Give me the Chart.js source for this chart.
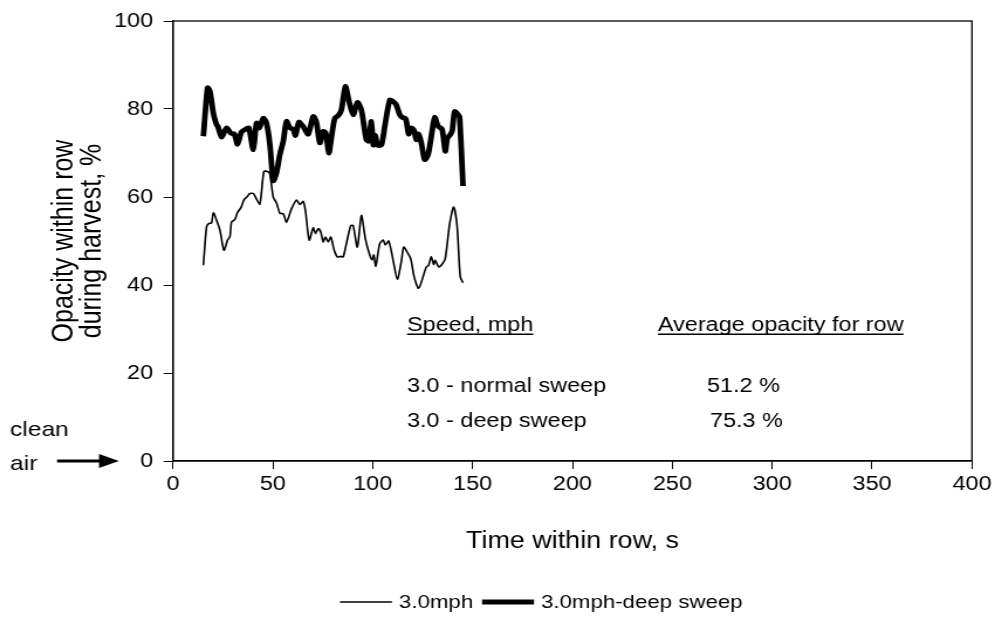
<!DOCTYPE html>
<html><head><meta charset="utf-8">
<script src="https://cdn.jsdelivr.net/npm/chart.js@4.4.1/dist/chart.umd.min.js"></script>
<style>html,body{margin:0;padding:0;background:#fff;overflow:hidden}
#c{display:block}</style>
</head><body>
<canvas id="c" width="850" height="627" style="width:995px;height:627px"></canvas>
<script>
// ---- data ----
const timeNormal = [15.2,16.8,18.0,19.3,20.2,21.8,23.5,25.5,27.3,28.5,29.3,31.0,32.3,34.0,35.7,37.0,38.5,40.2,41.8,43.5,45.5,47.3,48.5,50.2,51.8,53.5,55.2,56.8,59.3,61.8,63.5,65.2,66.3,68.2,70.2,71.3,72.7,74.0,75.2,76.3,77.7,79.0,80.7,82.3,84.0,85.2,86.8,89.0,90.2,92.3,94.3,96.3,98.5,99.7,100.5,101.5,103.5,105.2,106.3,108.0,110.2,112.3,114.3,115.5,117.2,119.0,120.7,122.7,123.5,125.2,126.8,128.0,129.3,130.5,131.3,133.0,134.7,136.3,138.5,140.5,142.2,143.8,145.2];
const opacityNormal = [44.5,53.2,54.0,54.1,56.4,54.7,52.4,47.9,50.2,51.0,54.3,54.9,56.5,57.6,59.5,60.0,60.8,60.8,59.5,58.4,65.8,65.8,65.2,59.9,58.7,56.3,56.2,54.3,57.3,59.3,58.3,59.0,56.9,50.2,53.0,51.7,52.8,52.0,49.8,50.9,49.8,50.9,47.9,46.4,46.5,46.4,49.4,53.5,53.5,48.6,55.8,50.5,46.8,45.7,46.8,44.3,49.4,50.2,49.1,50.0,45.6,41.3,45.3,48.6,47.5,46.0,41.9,39.3,39.6,41.9,44.1,44.5,46.4,44.7,45.6,44.1,44.7,46.0,53.9,57.7,53.5,41.9,40.5];
const timeDeep = [15.2,17.3,18.5,20.2,21.8,22.5,24.3,26.8,29.0,30.7,32.3,34.3,36.8,38.0,40.2,41.8,43.2,45.2,46.8,48.5,50.2,51.8,53.5,55.2,56.8,58.5,60.2,61.3,63.0,65.2,67.7,70.2,71.8,73.5,75.2,76.5,78.0,79.3,81.0,82.7,84.3,86.3,88.0,90.2,92.3,94.3,96.8,98.0,99.3,100.3,101.3,102.3,104.3,106.0,108.5,110.2,111.8,113.5,114.7,116.5,118.0,119.3,120.7,121.8,123.0,124.3,126.0,127.7,129.7,131.0,132.7,134.7,136.3,137.3,138.5,139.7,141.0,142.7,143.5,145.2];
const opacityDeep = [73.8,84.8,84.0,79.0,76.4,76.0,73.6,75.7,74.5,74.3,72.0,74.8,75.5,75.7,70.8,76.8,75.7,77.9,76.8,71.9,63.7,65.5,69.7,72.7,77.2,75.7,75.4,74.0,77.0,76.0,74.3,78.3,77.0,72.3,74.9,74.5,70.0,73.5,77.9,78.5,79.8,85.1,82.0,78.7,81.5,79.8,73.0,72.7,77.2,71.8,74.0,71.8,71.8,76.0,82.0,81.7,80.9,78.7,78.1,77.8,74.3,75.7,75.1,73.0,74.3,72.3,68.5,69.6,74.9,78.1,76.1,75.4,70.4,73.3,74.0,74.9,79.4,78.7,78.0,62.5];
const xTickValues = [0,50,100,150,200,250,300,350,400];
const yTickValues = [0,20,40,60,80,100];
const seriesNames = ['3.0mph','3.0mph-deep sweep'];
const tableHeads = ['Speed, mph','Average opacity for row'];
const tableSpeeds = ['3.0 - normal sweep','3.0 - deep sweep'];
const tableAverages = ['51.2 %','75.3 %'];
const yTitleLines = ['Opacity within row','during harvest, %'];
const xTitle = 'Time within row, s';
const cleanAirLines = ['clean','air'];

// ---- layout helpers ----
const S = 995/850;            // horizontal stretch of the picture
const sx = v => v / S;        // screen x -> canvas x
const FONT = '"Liberation Sans", Arial, sans-serif';
const font = (sz) => sz + 'px ' + FONT;

const toPts = (xs, ys) => xs.map((x, i) => ({x, y: ys[i]}));

const decorPlugin = {
  id: 'decor',
  afterDraw(chart) {
    const ctx = chart.ctx;
    const a = chart.chartArea;
    ctx.save();
    // frame
    ctx.strokeStyle = '#000';
    ctx.lineWidth = 1.3;
    ctx.strokeRect(a.left, a.top, a.right - a.left, a.bottom - a.top);

    ctx.fillStyle = '#000';
    ctx.textBaseline = 'alphabetic';
    ctx.textAlign = 'left';

    // y title (rotated, two lines)
    const yMid = (a.top + a.bottom) / 2;
    ctx.save();
    ctx.font = font(25);
    ctx.textAlign = 'center';
    ctx.textBaseline = 'middle';
    [sx(64), sx(93)].forEach((x, i) => {
      ctx.save();
      ctx.translate(x, yMid);
      ctx.rotate(-Math.PI / 2);
      ctx.fillText(yTitleLines[i], 0, 0);
      ctx.restore();
    });
    ctx.restore();

    // x title
    ctx.font = font(23);
    ctx.textAlign = 'center';
    ctx.fillText(xTitle, (a.left + a.right) / 2, 548);

    // table annotation
    ctx.font = font(20);
    ctx.textAlign = 'left';
    const headX = [sx(407), sx(658)];
    tableHeads.forEach((t, i) => {
      ctx.fillText(t, headX[i], 331);
      const w = ctx.measureText(t).width;
      ctx.fillRect(headX[i], 333.5, w, 1.5);
    });
    tableSpeeds.forEach((t, i) => ctx.fillText(t, sx(407), 392 + i * 35));
    const avgX = [sx(707), sx(710)];
    tableAverages.forEach((t, i) => ctx.fillText(t, avgX[i], 392 + i * 35));

    // clean air + arrow
    ctx.font = font(21);
    ctx.fillText(cleanAirLines[0], sx(10), 436);
    ctx.fillText(cleanAirLines[1], sx(10), 470);
    const ay = chart.scales.y.getPixelForValue(0);
    ctx.lineWidth = 3;
    ctx.beginPath();
    ctx.moveTo(sx(57), ay);
    ctx.lineTo(sx(103), ay);
    ctx.stroke();
    ctx.beginPath();
    ctx.moveTo(sx(99), ay - 7);
    ctx.lineTo(sx(119), ay);
    ctx.lineTo(sx(99), ay + 7);
    ctx.closePath();
    ctx.fill();

    // legend
    ctx.font = font(19);
    const ly = 602;
    const samples = [[sx(340), sx(392), sx(399)], [sx(482), sx(534), sx(541)]];
    chart.data.datasets.forEach((ds, i) => {
      const [x0, x1, tx] = samples[i];
      ctx.lineWidth = ds.borderWidth;
      ctx.beginPath();
      ctx.moveTo(x0, ly);
      ctx.lineTo(x1, ly);
      ctx.stroke();
      ctx.textBaseline = 'middle';
      ctx.fillText(ds.label, tx, ly + 1);
    });
    ctx.restore();
  }
};

Chart.defaults.font.family = FONT;
Chart.defaults.font.size = 20;
Chart.defaults.color = '#000';

new Chart(document.getElementById('c'), {
  type: 'line',
  data: {
    datasets: [
      { label: seriesNames[0], data: toPts(timeNormal, opacityNormal), borderColor: '#000', borderWidth: 1.6, pointRadius: 0, tension: 0.25, fill: false, order: 1 },
      { label: seriesNames[1], data: toPts(timeDeep, opacityDeep), borderColor: '#000', borderWidth: 4.8, pointRadius: 0, tension: 0.25, fill: false, order: 0 }
    ]
  },
  options: {
    responsive: false,
    animation: false,
    devicePixelRatio: 1,
    layout: { padding: { left: 0, right: 850 - sx(972), top: 17, bottom: 0 } },
    plugins: { legend: { display: false }, tooltip: { enabled: false }, title: { display: false } },
    scales: {
      x: {
        type: 'linear', min: 0, max: 400,
        afterBuildTicks: s => { s.ticks = xTickValues.map(v => ({value: v})); },
        afterFit: s => { s.height = 627 - 461; },
        ticks: { padding: 3, maxRotation: 0, font: { size: 20 }, color: '#000' },
        grid: { drawOnChartArea: false, drawTicks: true, tickLength: 8, color: '#000', lineWidth: 1 },
        border: { display: true, color: '#000', width: 1.3 }
      },
      y: {
        type: 'linear', min: 0, max: 100,
        afterBuildTicks: s => { s.ticks = yTickValues.map(v => ({value: v})); },
        afterFit: s => { s.width = sx(173); },
        ticks: { padding: 9, font: { size: 20 }, color: '#000' },
        grid: { drawOnChartArea: false, drawTicks: true, tickLength: 8, color: '#000', lineWidth: 1 },
        border: { display: true, color: '#000', width: 1.3 }
      }
    }
  },
  plugins: [decorPlugin]
});
</script>
</body></html>
